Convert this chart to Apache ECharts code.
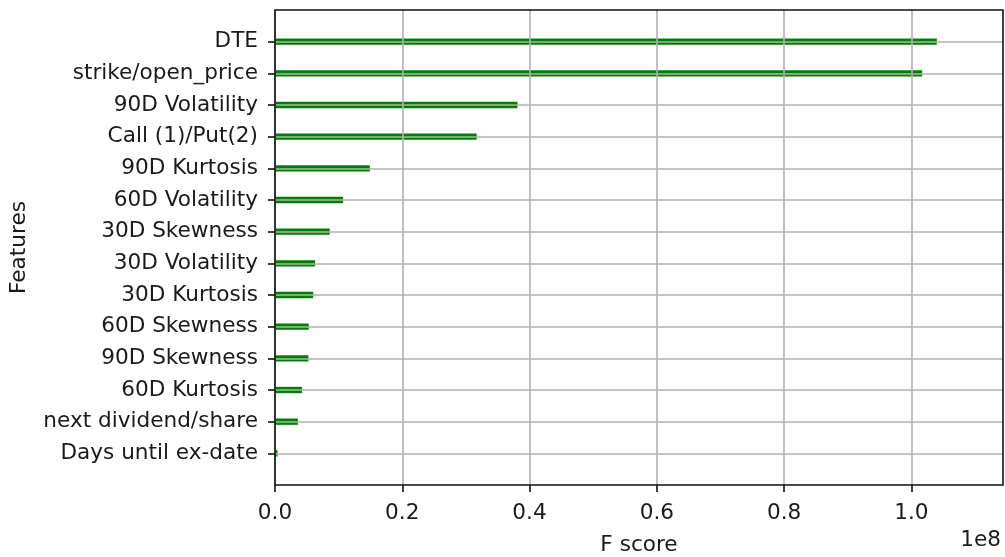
<!DOCTYPE html>
<html>
<head>
<meta charset="utf-8">
<script src="https://cdn.jsdelivr.net/npm/echarts@6/dist/echarts.min.js"></script>
<style>
  html, body { margin: 0; padding: 0; background: #fff; }
  #chart { width: 1005px; height: 557px; }
</style>
</head>
<body>
<div id="chart"></div>
<script>
// Feature importance (F score), listed top to bottom
const features = [
  'DTE',
  'strike/open_price',
  '90D Volatility',
  'Call (1)/Put(2)',
  '90D Kurtosis',
  '60D Volatility',
  '30D Skewness',
  '30D Volatility',
  '30D Kurtosis',
  '60D Skewness',
  '90D Skewness',
  '60D Kurtosis',
  'next dividend/share',
  'Days until ex-date'
];
const fScores = [
  104000000, 101700000, 38100000, 31700000, 14900000, 10700000, 8600000,
  6300000, 6000000, 5300000, 5250000, 4250000, 3600000, 400000
];
const xTicks = [0, 20000000, 40000000, 60000000, 80000000, 100000000];
const xTickLabels = ['0.0', '0.2', '0.4', '0.6', '0.8', '1.0'];

const FONT = 'DejaVu Sans';
const FS = 21.6;
const TEXT = '#1a1a1a';
const GRID = '#b0b0b0';

const rows = fScores.map((v, i) => [v, i]);
const rowIdx = features.map((_, i) => i);
const xMax = Math.max(...fScores) * 1.1;

const chart = echarts.init(document.getElementById('chart'), null, { renderer: 'canvas' });

chart.setOption({
  animation: false,
  backgroundColor: '#fff',
  textStyle: { fontFamily: FONT },
  title: {
    text: '1e8',
    right: 4,
    top: 529,
    padding: 0,
    textStyle: { fontFamily: FONT, fontSize: FS, fontWeight: 'normal', color: TEXT }
  },
  grid: {
    left: 275, right: 2, top: 10, bottom: 72,
    containLabel: false,
    outerBoundsMode: 'none',
    show: true, borderColor: '#111', borderWidth: 1.6, z: 6
  },
  xAxis: {
    type: 'value',
    min: 0,
    max: xMax,
    z: 5,
    name: 'F score',
    nameLocation: 'middle',
    nameGap: 49,
    nameTextStyle: { fontFamily: FONT, fontSize: FS, color: TEXT },
    axisLine: { show: false, onZero: false },
    axisTick: {
      show: true, length: 7, inside: false,
      customValues: xTicks,
      lineStyle: { color: '#111', width: 1.6 }
    },
    axisLabel: {
      customValues: xTicks,
      formatter: (v) => xTickLabels[xTicks.indexOf(v)] ?? '',
      fontFamily: FONT, fontSize: FS, color: TEXT, margin: 17
    },
    splitLine: { show: true, lineStyle: { color: GRID, width: 1.6 } }
  },
  yAxis: {
    type: 'value',
    min: -1,
    max: features.length,
    inverse: true,
    z: 5,
    name: 'Features',
    nameLocation: 'middle',
    nameGap: 245,
    nameRotate: 90,
    nameTextStyle: { fontFamily: FONT, fontSize: FS, color: TEXT },
    axisLine: { show: false, onZero: false },
    axisTick: {
      show: true, length: 7, inside: false,
      customValues: rowIdx,
      lineStyle: { color: '#111', width: 1.6 }
    },
    axisLabel: {
      customValues: rowIdx,
      formatter: (v) => features[v] ?? '',
      fontFamily: FONT, fontSize: FS, color: TEXT, margin: 17
    },
    splitLine: { show: true, lineStyle: { color: GRID, width: 1.6 } }
  },
  series: [{
    type: 'custom',
    z: 1,
    encode: { x: 0, y: 1 },
    data: rows,
    renderItem: (params, api) => {
      const v = api.value(0);
      const row = api.value(1);
      const p0 = api.coord([0, row]);
      const p1 = api.coord([v, row]);
      const h = Math.abs(api.size([0, 0.2])[1]);
      return {
        type: 'rect',
        shape: { x: p0[0], y: p0[1] - h / 2, width: p1[0] - p0[0], height: h },
        style: { fill: '#008000' }
      };
    }
  }]
});
</script>
</body>
</html>
